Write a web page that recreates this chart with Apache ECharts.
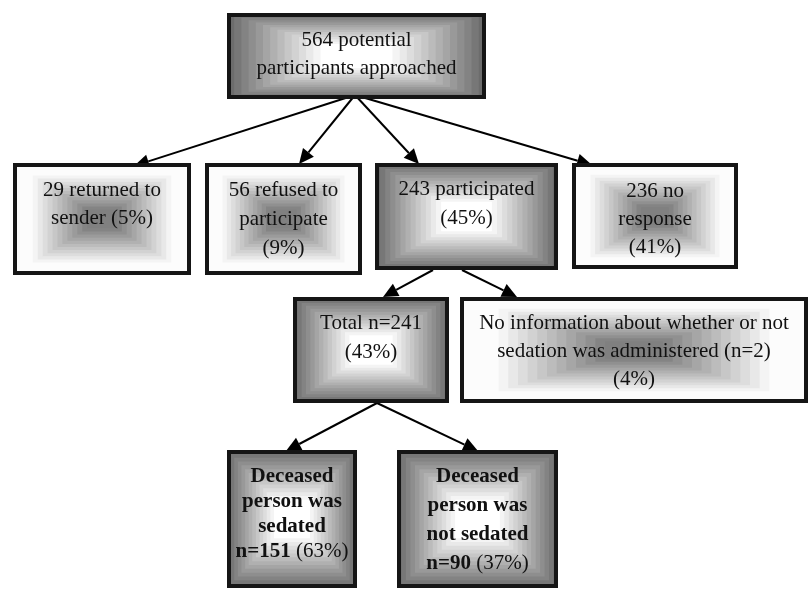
<!DOCTYPE html>
<html><head><meta charset="utf-8">
<script src="https://cdn.jsdelivr.net/npm/echarts@6/dist/echarts.min.js"></script>
<style>html,body{margin:0;padding:0;background:#fff}#c{width:811px;height:590px}</style>
</head><body><div id="c"></div>
<script>
// ---- data ----
const nodeText = [
  '564 potential\nparticipants approached',
  '29 returned to\nsender (5%)',
  '56 refused to\nparticipate\n(9%)',
  '243 participated\n(45%)',
  '236 no\nresponse\n(41%)',
  'Total n=241\n(43%)',
  'No information about whether or not\nsedation was administered (n=2)\n(4%)',
  '{b|Deceased}\n{b|person was}\n{b|sedated}\n{b|n=151} {r|(63%)}',
  '{b|Deceased}\n{b|person was}\n{b|not sedated}\n{b|n=90} {r|(37%)}'
];
const nodeShade = ['dark','light','light','dark','light','dark','light','dark','dark'];
const links = [[0,1],[0,2],[0,3],[0,4],[3,5],[3,6],[5,7],[5,8]];

// ---- layout (pixel geometry, not data) ----
const boxes = [
  [227,13,486,99],
  [13,163,191,275],
  [205,163,362,275],
  [375,163,558,270],
  [572,163,738,269],
  [293,297,449,403],
  [460,297,808,403],
  [227,450,357,588],
  [397,450,558,588]
];
const boxLineHeight = [28,28,29,29,28,29,28,25,29];
const boxTextTop = [13,13,13,12,14,12,12,14,12];
const linkPts = [
  [[355,95],[134,166]],
  [[355,95],[299,164]],
  [[355,95],[419,164]],
  [[355,95],[592,165]],
  [[433,270],[383,297]],
  [[462,270],[517,297]],
  [[377,403],[286,451]],
  [[377,403],[478,451]]
];

const FONT = '"Liberation Serif","Times New Roman",serif';
function mix(a,b,t){return Math.round(a+(b-a)*t);}
function gray(v){const h=v.toString(16).padStart(2,'0');return '#'+h+h+h;}
function clamp(x){return Math.max(0,Math.min(1,x));}

const chart = echarts.init(document.getElementById('c'), null, {renderer:'canvas'});
chart.setOption({
  animation:false,
  grid:{left:0,right:0,top:0,bottom:0},
  xAxis:{type:'value',min:0,max:811,show:false},
  yAxis:{type:'value',min:0,max:590,inverse:true,show:false},
  series:[
    {
      type:'custom',
      coordinateSystem:'cartesian2d',
      data: links.map((l,i)=>[i]),
      renderItem:function(params, api){
        const p = linkPts[params.dataIndex];
        const a = api.coord(p[0]), b = api.coord(p[1]);
        const dx=b[0]-a[0], dy=b[1]-a[1], L=Math.hypot(dx,dy);
        const ux=dx/L, uy=dy/L, len=15, hw=7;
        const bx=b[0]-ux*len, by=b[1]-uy*len;
        return {type:'group',children:[
          {type:'line',shape:{x1:a[0],y1:a[1],x2:bx,y2:by},style:{stroke:'#000',lineWidth:2}},
          {type:'polygon',shape:{points:[[b[0],b[1]],[bx-uy*hw,by+ux*hw],[bx+uy*hw,by-ux*hw]]},style:{fill:'#000'}}
        ]};
      },
      z:1
    },
    {
      type:'custom',
      coordinateSystem:'cartesian2d',
      data: nodeText.map((t,i)=>[i]),
      renderItem:function(params, api){
        const i = params.dataIndex;
        const bb = boxes[i];
        const p0 = api.coord([bb[0],bb[1]]), p1 = api.coord([bb[2],bb[3]]);
        const x0=p0[0], y0=p0[1], w=p1[0]-p0[0], h=p1[1]-p0[1];
        const cx=x0+w/2, cy=y0+h/2;
        const children=[];
        const N=18;
        const dark = nodeShade[i]==='dark';
        for(let k=0;k<N;k++){
          const t = 1 - k/N;
          let col;
          if(dark){ col = gray(mix(255,108,clamp((t-0.28)/0.72))); }
          else { col = gray(mix(128,252,clamp((t-0.2)/0.62))); }
          const rw=w*t, rh=h*t;
          children.push({type:'rect',shape:{x:cx-rw/2,y:cy-rh/2,width:rw,height:rh},style:{fill:col}});
        }
        children.push({type:'rect',shape:{x:x0+2,y:y0+2,width:w-4,height:h-4},style:{fill:null,stroke:'#151515',lineWidth:4}});
        const lh = boxLineHeight[i];
        children.push({type:'text',style:{
          text:nodeText[i], x:cx, y:y0+boxTextTop[i], align:'center', verticalAlign:'top',
          fontFamily:FONT, fontSize:21, lineHeight:lh, fill:'#111',
          rich:{
            b:{fontFamily:FONT,fontSize:21,fontWeight:'bold',lineHeight:lh,fill:'#111'},
            r:{fontFamily:FONT,fontSize:21,fontWeight:'normal',lineHeight:lh,fill:'#111'}
          }
        }});
        return {type:'group',children:children};
      },
      z:2
    }
  ]
});
</script></body></html>
